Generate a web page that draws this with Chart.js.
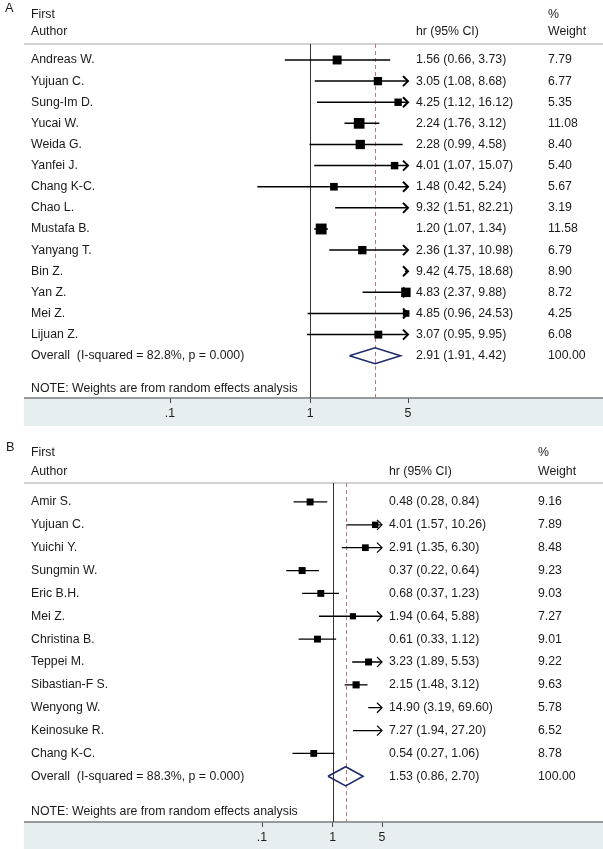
<!DOCTYPE html>
<html>
<head>
<meta charset="utf-8">
<script src="https://cdn.jsdelivr.net/npm/chart.js@4.4.1/dist/chart.umd.min.js"></script>
<style>
  html, body { margin: 0; padding: 0; background: #fff; }
  #wrap { position: relative; width: 603px; height: 849px; }
  canvas { position: absolute; left: 0; }
  #chartA { top: 0; }
  #chartB { top: 430px; }
</style>
</head>
<body>
<div id="wrap">
  <canvas id="chartA" width="603" height="430"></canvas>
  <canvas id="chartB" width="603" height="419"></canvas>
</div>
<script>
// x axis ticks (shared)
const xTicks = [0.1, 1, 5];
const xTickLabels = ['.1', '1', '5'];

// Panel A
const authorsA = ['Andreas W.', 'Yujuan C.', 'Sung-Im D.', 'Yucai W.', 'Weida G.', 'Yanfei J.', 'Chang K-C.',
    'Chao L.', 'Mustafa B.', 'Yanyang T.', 'Bin Z.', 'Yan Z.', 'Mei Z.', 'Lijuan Z.'];
const hrA = [1.56, 3.05, 4.25, 2.24, 2.28, 4.01, 1.48, 9.32, 1.20, 2.36, 9.42, 4.83, 4.85, 3.07];
const loA = [0.66, 1.08, 1.12, 1.76, 0.99, 1.07, 0.42, 1.51, 1.07, 1.37, 4.75, 2.37, 0.96, 0.95];
const hiA = [3.73, 8.68, 16.12, 3.12, 4.58, 15.07, 5.24, 82.21, 1.34, 10.98, 18.68, 9.88, 24.53, 9.95];
const weightA = [7.79, 6.77, 5.35, 11.08, 8.40, 5.40, 5.67, 3.19, 11.58, 6.79, 8.90, 8.72, 4.25, 6.08];
const overallA = [2.91, 1.91, 4.42];   // hr, lo, hi
const hetA = [82.8, 0.000];            // I-squared, p

// Panel B
const authorsB = ['Amir S.', 'Yujuan C.', 'Yuichi Y.', 'Sungmin W.', 'Eric B.H.', 'Mei Z.', 'Christina B.',
    'Teppei M.', 'Sibastian-F S.', 'Wenyong W.', 'Keinosuke R.', 'Chang K-C.'];
const hrB = [0.48, 4.01, 2.91, 0.37, 0.68, 1.94, 0.61, 3.23, 2.15, 14.90, 7.27, 0.54];
const loB = [0.28, 1.57, 1.35, 0.22, 0.37, 0.64, 0.33, 1.89, 1.48, 3.19, 1.94, 0.27];
const hiB = [0.84, 10.26, 6.30, 0.64, 1.23, 5.88, 1.12, 5.53, 3.12, 69.60, 27.20, 1.06];
const weightB = [9.16, 7.89, 8.48, 9.23, 9.03, 7.27, 9.01, 9.22, 9.63, 5.78, 6.52, 8.78];
const overallB = [1.53, 0.86, 2.70];
const hetB = [88.3, 0.000];

const FONT = '"Liberation Sans", Arial, sans-serif';
const FSIZE = 12.3;
const TXT = '#1a1a1a';
Chart.defaults.font.family = FONT;

function drawForest(id, d, lay) {
    const n = d.authors.length;
    const [est, oLo, oHi] = d.overall;
    const h = lay.diamondHalf;

    const ciSets = d.authors.map((a, i) => ({
        data: [{ x: d.lo[i], y: i }, { x: d.hi[i], y: i }],
        showLine: true,
        borderColor: '#000',
        borderWidth: lay.ciWidth,
        pointRadius: 0,
        clip: 0
    }));

    const boxSet = {
        data: d.hr.map((v, i) => ({ x: v, y: i })),
        pointStyle: 'rect',
        pointRadius: ctx => lay.boxScale * Math.sqrt(d.weight[ctx.dataIndex]) / Math.SQRT2,
        backgroundColor: '#000',
        borderWidth: 0,
        clip: { left: 0, top: false, right: 3, bottom: false }
    };

    const diamondSet = {
        data: [{ x: oLo, y: n }, { x: est, y: n - h }, { x: oHi, y: n }, { x: est, y: n + h }, { x: oLo, y: n }],
        showLine: true,
        borderColor: '#1f2a6e',
        borderWidth: 1.6,
        pointRadius: 0,
        fill: false
    };

    const decor = {
        id: 'forestDecor_' + id,
        beforeDraw(chart) {
            const { ctx, chartArea: ca, width, height } = chart;
            ctx.save();
            ctx.fillStyle = '#fff';
            ctx.fillRect(0, 0, width, height);
            // shaded axis band
            ctx.fillStyle = '#e7eef2';
            ctx.fillRect(24, ca.bottom, width - 24, lay.shadeBottom - ca.bottom);
            ctx.restore();
        },
        beforeDatasetsDraw(chart) {
            const { ctx, chartArea: ca, width } = chart;
            const xs = chart.scales.x;
            ctx.save();
            // header rule
            ctx.strokeStyle = '#d2d2d2';
            ctx.lineWidth = 2;
            ctx.beginPath();
            ctx.moveTo(24, ca.top);
            ctx.lineTo(width, ca.top);
            ctx.stroke();
            // axis line
            ctx.strokeStyle = '#7a7a7a';
            ctx.lineWidth = 1.5;
            ctx.beginPath();
            ctx.moveTo(24, ca.bottom);
            ctx.lineTo(width, ca.bottom);
            ctx.stroke();
            // null line at 1
            const x1 = Math.round(xs.getPixelForValue(1)) + 0.5;
            ctx.strokeStyle = '#333';
            ctx.lineWidth = 1;
            ctx.beginPath();
            ctx.moveTo(x1, ca.top);
            ctx.lineTo(x1, ca.bottom);
            ctx.stroke();
            // overall estimate line
            const xe = Math.round(xs.getPixelForValue(est)) + 0.5;
            ctx.strokeStyle = '#b57a7a';
            ctx.setLineDash([4, 3]);
            ctx.beginPath();
            ctx.moveTo(xe, ca.top);
            ctx.lineTo(xe, ca.bottom);
            ctx.stroke();
            ctx.restore();
        },
        afterDatasetsDraw(chart) {
            const { ctx, chartArea: ca } = chart;
            const xs = chart.scales.x, ys = chart.scales.y;
            ctx.save();
            // arrows for intervals running past the axis
            ctx.strokeStyle = '#000';
            ctx.lineWidth = lay.arrowWidth;
            const tip = xs.getPixelForValue(xs.max);
            d.hi.forEach((v, i) => {
                if (v <= xs.max) return;
                const y = ys.getPixelForValue(i);
                ctx.beginPath();
                ctx.moveTo(tip - lay.arrowLen, y - lay.arrowHalf);
                ctx.lineTo(tip, y);
                ctx.lineTo(tip - lay.arrowLen, y + lay.arrowHalf);
                ctx.stroke();
            });

            ctx.fillStyle = TXT;
            ctx.font = FSIZE + 'px ' + FONT;
            ctx.textBaseline = 'middle';
            ctx.textAlign = 'left';
            // headers
            ctx.font = (FSIZE + 0.5) + 'px ' + FONT;
            ctx.fillText(lay.panel, lay.labelX, lay.labelY);
            ctx.font = FSIZE + 'px ' + FONT;
            ctx.fillText('First', lay.authorX, lay.firstY);
            ctx.fillText('Author', lay.authorX, lay.authorY);
            ctx.fillText('hr (95% CI)', lay.hrX, lay.authorY);
            ctx.fillText('%', lay.wX, lay.firstY);
            ctx.fillText('Weight', lay.wX, lay.authorY);
            // rows
            const f = v => v.toFixed(2);
            d.authors.forEach((a, i) => {
                const y = ys.getPixelForValue(i);
                ctx.fillText(a, lay.authorX, y);
                ctx.fillText(`${f(d.hr[i])} (${f(d.lo[i])}, ${f(d.hi[i])})`, lay.hrX, y);
                ctx.fillText(f(d.weight[i]), lay.wX, y);
            });
            const yo = ys.getPixelForValue(n);
            ctx.fillText(`Overall  (I-squared = ${d.het[0].toFixed(1)}%, p = ${d.het[1].toFixed(3)})`, lay.authorX, yo);
            ctx.fillText(`${f(est)} (${f(oLo)}, ${f(oHi)})`, lay.hrX, yo);
            ctx.fillText(f(100), lay.wX, yo);
            ctx.fillText('NOTE: Weights are from random effects analysis', lay.authorX, ca.bottom - lay.noteGap);
            ctx.restore();
        }
    };

    return new Chart(document.getElementById(id), {
        type: 'scatter',
        data: { datasets: [...ciSets, boxSet, diamondSet] },
        options: {
            responsive: false,
            animation: false,
            events: [],
            layout: { padding: { left: lay.left, right: 603 - lay.right, top: lay.top, bottom: 0 } },
            plugins: { legend: { display: false }, tooltip: { enabled: false } },
            scales: {
                x: {
                    type: 'logarithmic',
                    min: xTicks[0],
                    max: xTicks[xTicks.length - 1],
                    bounds: 'data',
                    afterBuildTicks: s => { s.ticks = xTicks.map(v => ({ value: v })); },
                    afterFit: s => { s.height = lay.axisHeight; },
                    ticks: {
                        callback: (v, i) => xTickLabels[i],
                        color: TXT,
                        font: { size: FSIZE },
                        padding: 3,
                        maxRotation: 0,
                        autoSkip: false
                    },
                    grid: { drawOnChartArea: false, drawTicks: true, tickLength: 5, color: '#444', lineWidth: 1 },
                    border: { display: false }
                },
                y: {
                    type: 'linear',
                    min: lay.yMin,
                    max: lay.yMax,
                    reverse: true,
                    display: false
                }
            }
        },
        plugins: [decor]
    });
}

drawForest('chartA',
    { authors: authorsA, hr: hrA, lo: loA, hi: hiA, weight: weightA, overall: overallA, het: hetA },
    { panel: 'A', left: 170, right: 408, top: 44, yMin: -0.757, yMax: 16, axisHeight: 32, shadeBottom: 426,
      authorX: 31, hrX: 416, wX: 548, labelX: 5, labelY: 8, firstY: 15, authorY: 32, noteGap: 9,
      boxScale: 3.2, ciWidth: 1.5, arrowLen: 5, arrowHalf: 5, arrowWidth: 2, diamondHalf: 0.38 });

drawForest('chartB',
    { authors: authorsB, hr: hrB, lo: loB, hi: hiB, weight: weightB, overall: overallB, het: hetB },
    { panel: 'B', left: 262, right: 382, top: 53, yMin: -0.83, yMax: 14, axisHeight: 27, shadeBottom: 419,
      authorX: 31, hrX: 389, wX: 538, labelX: 6, labelY: 17, firstY: 23, authorY: 42, noteGap: 10,
      boxScale: 2.3, ciWidth: 1.3, arrowLen: 5, arrowHalf: 5, arrowWidth: 1.2, diamondHalf: 0.42 });
</script>
</body>
</html>
